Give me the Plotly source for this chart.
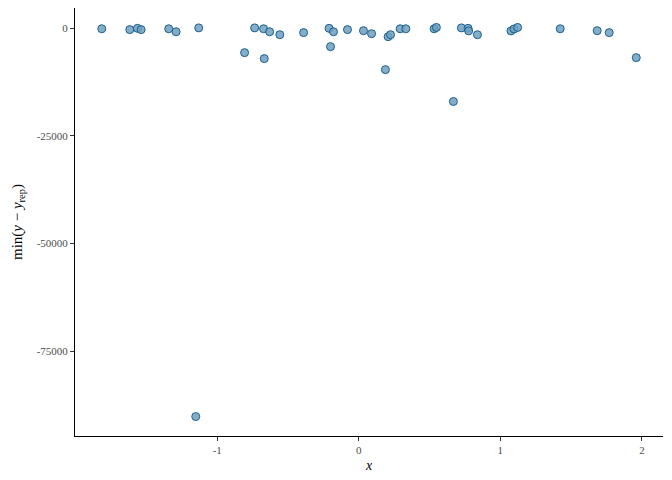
import plotly.graph_objects as go

x_vals = [-1.816, -1.618, -1.564, -1.538, -1.343, -1.291, -1.131, -0.807, -0.736, -0.673,
          -0.668, -0.630, -0.558, -0.390, -0.210, -0.200, -0.179, -0.080, 0.033, 0.090,
          0.188, 0.207, 0.224, 0.292, 0.332, 0.532, 0.548, 0.668, 0.725, 0.772,
          0.776, 0.838, 1.075, 1.096, 1.122, 1.423, 1.684, 1.769, 1.960, -1.152]
y_vals = [-100, -300, 0, -300, -100, -800, 100, -5650, 100, -100,
          -7040, -800, -1480, -1000, 0, -4260, -800, -300, -550, -1250,
          -9600, -1940, -1480, -100, -100, -100, 200, -17000, 100, 0,
          -600, -1480, -600, -150, 200, -100, -550, -1000, -6810, -90200]

x_ticks = [-1, 0, 1, 2]
y_ticks = [0, -25000, -50000, -75000]

fig = go.Figure()
fig.add_trace(go.Scatter(
    x=x_vals, y=y_vals, mode="markers",
    marker=dict(size=8, color="rgba(110,160,190,0.85)",
                line=dict(color="#1a5f92", width=1)),
    showlegend=False,
))

font_family = "Liberation Serif"
# page body has an 8px default margin, so the figure is sized to fit the window
fig.update_layout(
    width=664, height=472,
    margin=dict(l=67, r=8.5, t=0, b=44),
    plot_bgcolor="white", paper_bgcolor="white",
    font=dict(family=font_family, size=11, color="#4D4D4D"),
)
fig.update_xaxes(
    range=[-2.005, 2.149], tickvals=x_ticks, ticktext=[str(v) for v in x_ticks],
    showgrid=False, zeroline=False, showline=True, linecolor="black", linewidth=1,
    ticks="outside", ticklen=4, tickcolor="#333333", automargin=False,
    title=dict(text="<i>x</i>", font=dict(family=font_family, size=14, color="black"), standoff=4),
)
fig.update_yaxes(
    range=[-94720, 4720], tickvals=y_ticks, ticktext=[str(v) for v in y_ticks],
    showgrid=False, zeroline=False, showline=True, linecolor="black", linewidth=1,
    ticks="outside", ticklen=4, tickcolor="#333333", automargin=False,
    title=dict(text="min(<i>y</i> − <i>y</i><sub>rep</sub>)",
               font=dict(family=font_family, size=15, color="black"), standoff=10),
)

fig.write_html("out.html")
